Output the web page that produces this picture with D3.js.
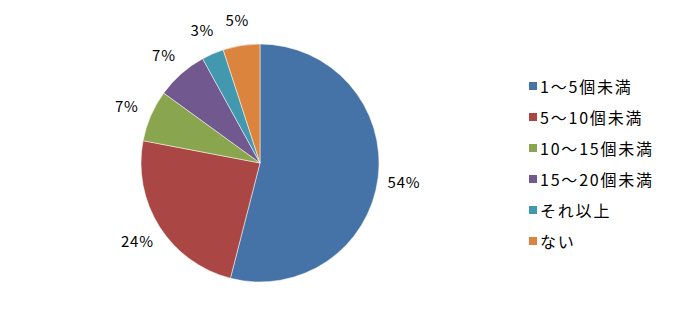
<!DOCTYPE html>
<html>
<head>
<meta charset="utf-8">
<script src="https://cdn.jsdelivr.net/npm/d3@7"></script>
<style>
  body { margin: 0; background: #fff; }
  svg { display: block; font-family: "Noto Sans CJK JP", "DejaVu Sans", sans-serif; }
</style>
</head>
<body>
<div id="chart"></div>
<script>
// Slice categories and shares (%)
const categories = ["1～5個未満", "5～10個未満", "10～15個未満", "15～20個未満", "それ以上", "ない"];
const shares = [54, 24, 7, 7, 3, 5];
const colors = ["#4572A7", "#AA4643", "#89A54E", "#71588F", "#4198AF", "#DB843D"];

const width = 674, height = 325;
const cx = 260, cy = 163, radius = 119;

const svg = d3.select("#chart").append("svg")
  .attr("width", width)
  .attr("height", height);

const data = categories.map((c, i) => ({ name: c, value: shares[i], color: colors[i] }));

const pie = d3.pie().value((d) => d.value).sort(null);
const arcs = pie(data);
const arc = d3.arc().innerRadius(0).outerRadius(radius);
const labelArc = d3.arc().innerRadius(radius * 1.22).outerRadius(radius * 1.22);

const gPie = svg.append("g").attr("transform", `translate(${cx},${cy})`);

gPie.selectAll("path.slice")
  .data(arcs)
  .join("path")
  .attr("class", "slice")
  .attr("d", arc)
  .attr("fill", (d) => d.data.color)
  .attr("stroke", "#ffffff")
  .attr("stroke-width", 0.5);

// percent labels just outside each slice
gPie.selectAll("text.pct")
  .data(arcs)
  .join("text")
  .attr("class", "pct")
  .attr("transform", (d) => `translate(${labelArc.centroid(d)})`)
  .attr("text-anchor", "middle")
  .attr("dominant-baseline", "central")
  .attr("font-size", 15)
  .attr("letter-spacing", 0.8)
  .attr("fill", "#000")
  .text((d) => `${d.data.value}%`);

// Legend
const legend = svg.append("g").attr("transform", "translate(529,86)");
const rowH = 31;
const rows = legend.selectAll("g.row")
  .data(data)
  .join("g")
  .attr("class", "row")
  .attr("transform", (d, i) => `translate(0,${i * rowH})`);

rows.append("rect")
  .attr("x", 0)
  .attr("y", -4)
  .attr("width", 8)
  .attr("height", 8)
  .attr("fill", (d) => d.color);

rows.append("text")
  .attr("x", 11)
  .attr("y", 0)
  .attr("dominant-baseline", "central")
  .attr("font-size", 16)
  .attr("letter-spacing", 1.8)
  .attr("fill", "#000")
  .text((d) => d.name);
</script>
</body>
</html>
